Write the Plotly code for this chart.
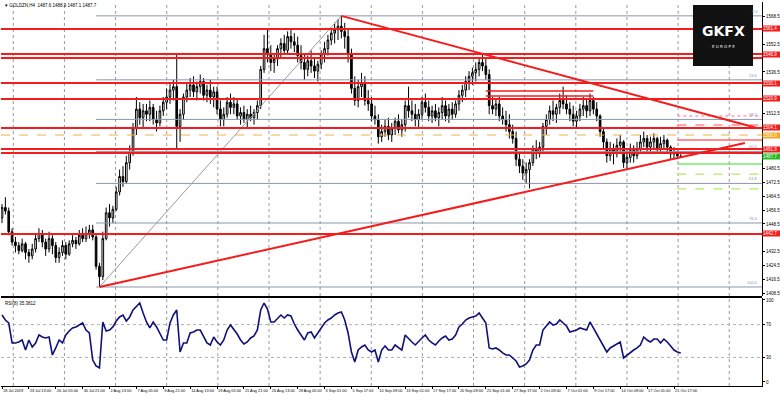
import plotly.graph_objects as go
from plotly.subplots import make_subplots

title_text = "\u25BE GOLDZN,H4  1487.6 1488.9 1487.1 1487.7"
rsi_title = "RSI(8) 35.3812"

x_tick_labels = ["18 Jul 2019", "23 Jul 13:00", "26 Jul 05:00", "30 Jul 21:00", "2 Aug 13:00",
                 "7 Aug 05:00", "9 Aug 21:00", "14 Aug 13:00", "19 Aug 05:00", "21 Aug 21:00",
                 "26 Aug 13:00", "29 Aug 05:00", "3 Sep 01:00", "5 Sep 17:00", "10 Sep 09:00",
                 "13 Sep 01:00", "17 Sep 17:00", "20 Sep 09:00", "25 Sep 01:00", "27 Sep 17:00",
                 "2 Oct 09:00", "7 Oct 01:00", "9 Oct 17:00", "14 Oct 09:00", "17 Oct 01:00",
                 "21 Oct 17:00"]
x_tick_bars = [0, 8, 16, 24, 32, 40, 48, 56, 64, 72, 80, 88, 96, 104, 112, 120, 128, 136, 144,
               152, 160, 168, 176, 184, 192, 200]

price_ticks = [1408.5, 1416.5, 1424.5, 1432.5, 1440.5, 1448.5, 1456.5, 1464.5, 1472.5, 1480.5,
               1488.5, 1496.5, 1504.5, 1512.5, 1520.5, 1528.5, 1536.5, 1544.5, 1552.5, 1560.5, 1568.5]
rsi_ticks = [0, 30, 70, 100]
rsi_levels = [30, 70]

open_ = [1452, 1458, 1456, 1444, 1438, 1436, 1433, 1437, 1432, 1430,
         1434, 1440, 1443, 1438, 1434, 1440, 1436, 1429, 1432, 1436,
         1431, 1437, 1439, 1437, 1442, 1440, 1443, 1445, 1441, 1424,
         1418, 1440, 1455, 1452, 1457, 1467, 1476, 1473, 1484, 1490,
         1504, 1515, 1510, 1514, 1512, 1516, 1509, 1507, 1514, 1519,
         1522, 1526, 1528, 1505, 1512, 1522, 1526, 1529, 1525, 1528,
         1531, 1523, 1526, 1522, 1525, 1515, 1509, 1512, 1519, 1516,
         1518, 1511, 1513, 1509, 1512, 1510, 1513, 1517, 1538, 1550,
         1547, 1542, 1544, 1550, 1553, 1549, 1557, 1554, 1552, 1546,
         1542, 1538, 1543, 1540, 1537, 1541, 1547, 1550, 1555, 1559,
         1561, 1563, 1560, 1557, 1547, 1527, 1520, 1528, 1530, 1520,
         1518, 1511, 1509, 1499, 1502, 1505, 1500, 1504, 1508, 1503,
         1506, 1517, 1514, 1512, 1509, 1512, 1519, 1516, 1511, 1514,
         1510, 1513, 1517, 1511, 1515, 1512, 1518, 1523, 1526, 1531,
         1534, 1536, 1538, 1542, 1540, 1535, 1517, 1515, 1518, 1511,
         1509, 1506, 1502, 1498, 1486, 1482, 1478, 1480, 1484, 1492,
         1490, 1493, 1505, 1509, 1514, 1512, 1516, 1520, 1518, 1515,
         1512, 1508, 1511, 1515, 1517, 1514, 1520, 1515, 1511, 1502,
         1496, 1488, 1492, 1490, 1494, 1496, 1484, 1487, 1491, 1488,
         1492, 1496, 1498, 1493, 1496, 1498, 1492, 1495, 1497, 1493,
         1489, 1490, 1487.6]

high = [1460, 1464, 1458, 1446, 1441, 1438, 1440, 1438, 1434, 1437,
        1443, 1446, 1445, 1440, 1444, 1442, 1438, 1435, 1439, 1438,
        1439, 1442, 1441, 1445, 1446, 1447, 1448, 1448, 1443, 1426,
        1444, 1458, 1460, 1459, 1470, 1480, 1482, 1488, 1494, 1507,
        1522, 1519, 1518, 1518, 1520, 1518, 1514, 1517, 1522, 1527,
        1530, 1532, 1547, 1515, 1524, 1530, 1533, 1534, 1531, 1535,
        1533, 1529, 1532, 1528, 1528, 1520, 1516, 1522, 1524, 1522,
        1521, 1516, 1517, 1515, 1517, 1515, 1520, 1540, 1558, 1562,
        1552, 1547, 1552, 1556, 1558, 1560, 1562, 1559, 1557, 1552,
        1547, 1546, 1549, 1544, 1543, 1549, 1554, 1558, 1562, 1565,
        1567, 1569, 1565, 1562, 1550, 1534, 1532, 1536, 1534, 1526,
        1522, 1517, 1512, 1506, 1509, 1510, 1507, 1510, 1512, 1509,
        1520, 1528, 1520, 1518, 1515, 1522, 1524, 1520, 1517, 1518,
        1516, 1522, 1520, 1518, 1519, 1520, 1526, 1529, 1534, 1537,
        1539, 1542, 1545, 1547, 1544, 1538, 1522, 1521, 1522, 1516,
        1514, 1512, 1506, 1502, 1490, 1486, 1484, 1486, 1494, 1497,
        1496, 1507, 1512, 1517, 1520, 1518, 1524, 1528, 1523, 1519,
        1517, 1514, 1518, 1522, 1521, 1524, 1522, 1519, 1512, 1504,
        1498, 1496, 1495, 1498, 1500, 1497, 1491, 1495, 1494, 1496,
        1500, 1502, 1500, 1499, 1501, 1499, 1499, 1500, 1498, 1494,
        1493, 1491, 1488.9]

low = [1449, 1454, 1442, 1436, 1432, 1431, 1432, 1428, 1426, 1428,
       1432, 1438, 1435, 1430, 1432, 1431, 1426, 1426, 1430, 1428,
       1430, 1435, 1434, 1436, 1438, 1438, 1440, 1439, 1422, 1412,
       1416, 1439, 1447, 1449, 1456, 1465, 1470, 1472, 1480, 1488,
       1500, 1506, 1504, 1508, 1508, 1506, 1502, 1505, 1511, 1515,
       1518, 1520, 1492, 1496, 1509, 1519, 1522, 1522, 1520, 1524,
       1520, 1519, 1518, 1516, 1512, 1505, 1505, 1510, 1512, 1512,
       1509, 1506, 1507, 1504, 1508, 1506, 1509, 1515, 1536, 1542,
       1537, 1536, 1540, 1545, 1547, 1547, 1550, 1548, 1542, 1538,
       1532, 1534, 1536, 1533, 1531, 1538, 1542, 1546, 1552, 1553,
       1555, 1556, 1550, 1542, 1524, 1517, 1516, 1522, 1517, 1514,
       1508, 1506, 1495, 1496, 1499, 1497, 1496, 1500, 1501, 1499,
       1502, 1510, 1508, 1505, 1504, 1509, 1513, 1508, 1507, 1508,
       1505, 1509, 1508, 1507, 1509, 1510, 1514, 1519, 1522, 1526,
       1529, 1531, 1534, 1537, 1532, 1512, 1512, 1511, 1508, 1506,
       1502, 1498, 1495, 1482, 1478, 1474, 1472, 1469, 1482, 1486,
       1487, 1490, 1500, 1506, 1508, 1507, 1512, 1515, 1512, 1508,
       1505, 1504, 1508, 1511, 1510, 1511, 1512, 1508, 1499, 1492,
       1484, 1485, 1483, 1487, 1490, 1481, 1480, 1484, 1484, 1486,
       1490, 1493, 1490, 1489, 1492, 1489, 1490, 1492, 1489, 1486,
       1486, 1486, 1487.1]

close = [1458, 1456, 1444, 1438, 1436, 1433, 1437, 1432, 1430, 1434,
         1440, 1443, 1438, 1434, 1440, 1436, 1429, 1432, 1436, 1431,
         1437, 1439, 1437, 1442, 1440, 1443, 1445, 1441, 1424, 1418,
         1440, 1455, 1452, 1457, 1467, 1476, 1473, 1484, 1490, 1504,
         1515, 1510, 1514, 1512, 1516, 1509, 1507, 1514, 1519, 1522,
         1526, 1528, 1505, 1512, 1522, 1526, 1529, 1525, 1528, 1531,
         1523, 1526, 1522, 1525, 1515, 1509, 1512, 1519, 1516, 1518,
         1511, 1513, 1509, 1512, 1510, 1513, 1517, 1538, 1550, 1547,
         1542, 1544, 1550, 1553, 1549, 1557, 1554, 1552, 1546, 1542,
         1538, 1543, 1540, 1537, 1541, 1547, 1550, 1555, 1559, 1561,
         1563, 1560, 1557, 1547, 1527, 1520, 1528, 1530, 1520, 1518,
         1511, 1509, 1499, 1502, 1505, 1500, 1504, 1508, 1503, 1506,
         1517, 1514, 1512, 1509, 1512, 1519, 1516, 1511, 1514, 1510,
         1513, 1517, 1511, 1515, 1512, 1518, 1523, 1526, 1531, 1534,
         1536, 1538, 1542, 1540, 1535, 1517, 1515, 1518, 1511, 1509,
         1506, 1502, 1498, 1486, 1482, 1478, 1480, 1484, 1492, 1490,
         1493, 1505, 1509, 1514, 1512, 1516, 1520, 1518, 1515, 1512,
         1508, 1511, 1515, 1517, 1514, 1520, 1515, 1511, 1502, 1496,
         1488, 1492, 1490, 1494, 1496, 1484, 1487, 1491, 1488, 1492,
         1496, 1498, 1493, 1496, 1498, 1492, 1495, 1497, 1493, 1489,
         1490, 1488, 1487.7]

rsi = [81.7, 75.6, 72.0, 47.6, 47.6, 48.8, 51.2, 39.0, 51.2, 42.7,
       47.6, 57.3, 54.9, 53.7, 54.9, 32.9, 41.5, 51.2, 47.6, 57.3,
       62.2, 65.9, 67.1, 69.5, 72.0, 63.4, 59.8, 26.8, 19.5, 17.1,
       73.2, 62.2, 63.4, 67.1, 74.4, 79.3, 81.7, 74.4, 79.3, 87.8,
       91.5, 96.3, 84.1, 73.2, 65.9, 73.2, 67.1, 59.8, 51.2, 51.2,
       72.0, 81.7, 87.8, 36.6, 47.6, 47.6, 59.8, 61.0, 63.4, 63.4,
       54.9, 47.6, 45.1, 54.9, 48.8, 45.1, 51.2, 63.4, 69.5, 64.6,
       58.5, 51.2, 46.3, 48.8, 53.7, 56.1, 63.4, 87.8, 96.3, 89.0,
       73.2, 73.2, 78.0, 81.7, 78.0, 81.7, 80.5, 70.7, 63.4, 57.3,
       51.2, 59.8, 61.0, 53.7, 59.8, 65.9, 72.0, 75.6, 78.0, 81.7,
       84.1, 85.4, 75.6, 59.8, 36.6, 24.4, 39.0, 42.7, 45.1, 39.0,
       36.6, 39.0, 24.4, 39.0, 43.9, 39.0, 39.0, 45.1, 41.5, 39.0,
       57.3, 52.4, 48.8, 45.1, 50.0, 53.7, 57.3, 51.2, 47.6, 45.1,
       50.0, 53.7, 56.1, 51.2, 52.4, 57.3, 67.1, 70.7, 75.6, 78.0,
       79.3, 80.5, 84.1, 78.0, 72.0, 41.5, 40.2, 41.5, 39.0, 35.4,
       32.9, 32.9, 29.3, 25.6, 18.3, 19.5, 22.0, 26.8, 39.0, 45.1,
       45.1, 63.4, 68.3, 73.2, 69.5, 70.7, 75.6, 72.0, 68.3, 61.0,
       62.2, 63.4, 65.9, 64.6, 63.4, 73.2, 65.9, 58.5, 51.2, 42.7,
       36.6, 41.5, 43.9, 46.3, 48.8, 29.3, 32.9, 36.6, 39.0, 41.5,
       45.1, 54.9, 51.2, 48.8, 52.4, 52.4, 47.6, 52.4, 48.8, 43.9,
       39.0, 36.6, 35.4]

# horizontal levels drawn on the chart
red_levels = [1561.4, 1546.9, 1544.6, 1530.1, 1520.9, 1504.1, 1491.9, 1489.6, 1442.7]
# the levels whose price box is visible on the axis (paired lines share one box)
red_label_levels = [1561.4, 1546.9, 1530.1, 1520.9, 1504.1, 1491.9, 1442.7]
orange_level = 1500.0
bid_level = 1487.7
short_red_levels = [1525.5, 1522.6]
short_red_bars = [144, 176]
# projection lines at the right end
proj_levels = [1511.0, 1505.8, 1497.1, 1483.2, 1477.4, 1468.8]
proj_colors = ["#ff6f8f", "#ff5060", "#ff2020", "#33dd22", "#b5e86a", "#b5e86a"]
proj_dash = ["dot", "dash", "solid", "solid", "dash", "dash"]
proj_start_bar = 201
# trend lines (bar, price)
trend_down_bars = [101, 224.7]
trend_down_prices = [1569, 1504.1]
trend_up_bars = [29, 221.1]
trend_up_prices = [1412, 1495.4]
fib_ratios = [0.0, 23.6, 38.2, 50.0, 61.8, 76.4, 100.0]

N = len(close)
bars = list(range(N))
X_MIN, X_MAX = -0.298, 226.19
RED = "#f41c1c"

fig = make_subplots(rows=2, cols=1, shared_xaxes=True)

fig.add_trace(go.Candlestick(
    x=bars, open=open_, high=high, low=low, close=close,
    increasing=dict(line=dict(color="black", width=1), fillcolor="white"),
    decreasing=dict(line=dict(color="black", width=1), fillcolor="black"),
    whiskerwidth=0, showlegend=False, hoverinfo="skip"), row=1, col=1)

fig.add_trace(go.Scatter(x=bars, y=rsi, mode="lines",
                         line=dict(color="#10107a", width=1.6),
                         showlegend=False, hoverinfo="skip"), row=2, col=1)

# fibonacci retracement
lo_bar = low.index(min(low))
hi_bar = high.index(max(high))
lo_p, hi_p = low[lo_bar], high[hi_bar]
fig.add_trace(go.Scatter(x=[lo_bar, hi_bar], y=[lo_p, hi_p], mode="lines",
                         line=dict(color="#9a9a9a", width=1), showlegend=False,
                         hoverinfo="skip"), row=1, col=1)
for r in fib_ratios:
    p = hi_p - r / 100.0 * (hi_p - lo_p)
    fig.add_trace(go.Scatter(x=[lo_bar - 1, X_MAX], y=[p, p], mode="lines",
                             line=dict(color="#8c96a8", width=1), showlegend=False,
                             hoverinfo="skip"), row=1, col=1)
    fig.add_annotation(xref="paper", x=0.9974, xanchor="right", yref="y", y=p,
                       yanchor="bottom", text=f"{r:.1f}", showarrow=False,
                       font=dict(size=4, color="#8c96a8", family="Liberation Sans"))

# full-width horizontal levels
for lv in red_levels:
    fig.add_shape(type="line", xref="x domain", x0=0, x1=1, yref="y", y0=lv, y1=lv,
                  line=dict(color=RED, width=2))
fig.add_shape(type="line", xref="x domain", x0=0, x1=1, yref="y", y0=orange_level,
              y1=orange_level, line=dict(color="#f5b041", width=1, dash="dash"))

for lv in short_red_levels:
    fig.add_trace(go.Scatter(x=short_red_bars, y=[lv, lv], mode="lines",
                             line=dict(color=RED, width=1.5), showlegend=False,
                             hoverinfo="skip"), row=1, col=1)

for lv, c, d in zip(proj_levels, proj_colors, proj_dash):
    fig.add_trace(go.Scatter(x=[proj_start_bar, X_MAX], y=[lv, lv], mode="lines",
                             line=dict(color=c, width=1.2, dash=d), showlegend=False,
                             hoverinfo="skip"), row=1, col=1)

fig.add_trace(go.Scatter(x=trend_down_bars, y=trend_down_prices, mode="lines",
                         line=dict(color=RED, width=2), showlegend=False,
                         hoverinfo="skip"), row=1, col=1)
fig.add_trace(go.Scatter(x=trend_up_bars, y=trend_up_prices, mode="lines",
                         line=dict(color=RED, width=2), showlegend=False,
                         hoverinfo="skip"), row=1, col=1)

# price labels on the axis (coloured boxes), plain tick labels hidden where a box sits
label_levels = red_label_levels + [orange_level, bid_level]
label_colors = [RED] * len(red_label_levels) + ["#f5a623", "#22bb22"]
for lv, c in zip(label_levels, label_colors):
    fig.add_annotation(xref="paper", x=1.0, xanchor="left", yref="y", y=lv,
                       yanchor="middle", text=f"{lv:.1f}", showarrow=False,
                       bgcolor=c, borderpad=0, width=17, align="left",
                       font=dict(size=4.5, color="white", family="Liberation Sans"))
shown_ticks = [v for v in price_ticks if all(abs(v - lv) > 3.6 for lv in red_levels + [orange_level, bid_level])]

# vertical dotted grid
grid_start, grid_step = 3.36, 15.22
g = grid_start
while g < X_MAX:
    fig.add_shape(type="line", xref="x", x0=g, x1=g, yref="paper", y0=0, y1=1,
                  line=dict(color="#9a9a9a", width=1, dash="dot"), layer="below")
    g += grid_step

for lv in rsi_levels:
    fig.add_shape(type="line", xref="x2 domain", x0=0, x1=1, yref="y2", y0=lv, y1=lv,
                  line=dict(color="#b0b0b0", width=1, dash="dot"), layer="below")

# panel separator
fig.add_shape(type="rect", xref="paper", x0=0, x1=1, yref="paper", y0=0.2292, y1=0.2344,
              line=dict(width=0), fillcolor="black")

# logo
fig.add_shape(type="rect", xref="paper", yref="paper", x0=0.9093, x1=0.9882,
              y0=0.8333, y1=0.9922, fillcolor="#111111", line=dict(width=0))
fig.add_annotation(xref="paper", yref="paper", x=0.9488, y=0.9245, xanchor="center",
                   yanchor="middle", text="<b>GKFX</b>", showarrow=False,
                   font=dict(size=14, color="white", family="DejaVu Sans"))
fig.add_annotation(xref="paper", yref="paper", x=0.9488, y=0.8850, xanchor="center",
                   yanchor="middle", text="E U R O P E", showarrow=False,
                   font=dict(size=4, color="white", family="DejaVu Sans"))

fig.add_annotation(xref="paper", yref="paper", x=0.003, y=0.992, xanchor="left",
                   yanchor="middle", text=title_text, showarrow=False,
                   font=dict(size=4.5, color="black", family="Liberation Sans"))
fig.add_annotation(xref="paper", yref="paper", x=0.003, y=0.2255, xanchor="left",
                   yanchor="top", text=rsi_title, showarrow=False,
                   font=dict(size=4.5, color="black", family="Liberation Sans"))

axis_font = dict(size=4.5, color="black", family="Liberation Sans")
fig.update_layout(
    width=780, height=395, margin=dict(l=1, r=18, t=2, b=9),
    paper_bgcolor="white", plot_bgcolor="white", hovermode=False, showlegend=False,
    xaxis=dict(range=[X_MIN, X_MAX], showgrid=False, zeroline=False, showticklabels=False,
               rangeslider=dict(visible=False), showline=False),
    xaxis2=dict(range=[X_MIN, X_MAX], showgrid=False, zeroline=False,
                tickvals=x_tick_bars, ticktext=x_tick_labels, ticks="outside", ticklen=2,
                tickangle=0, tickcolor="black", ticklabelposition="outside right",
                tickfont=dict(size=3.9, color="black", family="Liberation Sans"),
                showline=True, linecolor="black", linewidth=1),
    yaxis=dict(domain=[0.2344, 1.0], range=[1406.78, 1577.02], side="right",
               tickvals=shown_ticks, ticktext=[f"{v:.1f}" for v in shown_ticks],
               ticks="outside", ticklen=2, tickcolor="black", tickfont=axis_font,
               showgrid=False, zeroline=False, showline=True, linecolor="black", linewidth=1),
    yaxis2=dict(domain=[0.0, 0.2292], range=[-4.88, 102.44], side="right",
                tickvals=rsi_ticks, ticktext=[str(v) for v in rsi_ticks],
                ticks="outside", ticklen=2, tickcolor="black", tickfont=axis_font,
                showgrid=False, zeroline=False, showline=True, linecolor="black", linewidth=1),
)

fig.write_html("out.html", config={"displayModeBar": False})

# remove the browser's default page margin so the figure sits at the top-left corner
with open("out.html", "r", encoding="utf-8") as fh:
    html = fh.read()
html = html.replace("<body>", '<body style="margin:0;padding:0;overflow:hidden;">', 1)
with open("out.html", "w", encoding="utf-8") as fh:
    fh.write(html)
